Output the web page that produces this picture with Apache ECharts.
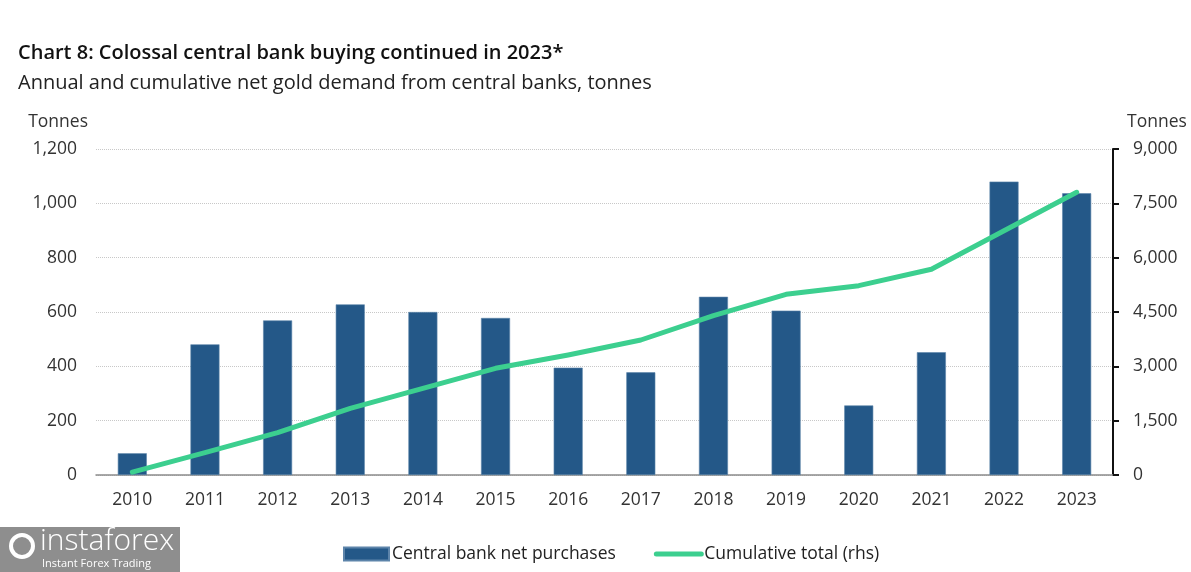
<!DOCTYPE html>
<html>
<head>
<meta charset="utf-8">
<script src="https://cdn.jsdelivr.net/npm/echarts@6/dist/echarts.min.js"></script>
<style>
html,body{margin:0;padding:0;background:#fff;}
#chart{width:1191px;height:572px;}
</style>
</head>
<body>
<div id="chart"></div>
<script>
var years = ['2010','2011','2012','2013','2014','2015','2016','2017','2018','2019','2020','2021','2022','2023'];
var netPurchases = [80, 481, 569, 628, 600, 578, 395, 378, 656, 605, 256, 452, 1080, 1037];
var cumulativeTotal = [79, 620, 1168, 1841, 2393, 2945, 3313, 3727, 4398, 4988, 5227, 5679, 6745, 7805];
var leftTicks = {min: 0, max: 1200, interval: 200};
var rightTicks = {min: 0, max: 9000, interval: 1500};

var FONT = "'Open Sans', 'Noto Sans', sans-serif";
var chart = echarts.init(document.getElementById('chart'), null, {renderer: 'canvas'});
var fmt = function (v) { return Number(v).toLocaleString('en-US'); };

chart.setOption({
  backgroundColor: '#ffffff',
  animation: false,
  textStyle: {fontFamily: FONT},
  title: [
    {text: 'Chart 8: Colossal central bank buying continued in 2023*', left: 13, top: 38,
     textStyle: {fontFamily: FONT, fontSize: 20, fontWeight: 600, color: '#111111'}},
    {text: 'Annual and cumulative net gold demand from central banks, tonnes', left: 13, top: 68,
     textStyle: {fontFamily: FONT, fontSize: 20, fontWeight: 400, color: '#222222'}}
  ],
  grid: {left: 96, right: 78, top: 149, bottom: 97, containLabel: false},
  legend: {
    left: 338, top: 540, itemWidth: 45, itemHeight: 13, itemGap: 38,
    textStyle: {fontFamily: FONT, fontSize: 17.5, color: '#222222', padding: [0, 0, 0, -2]},
    data: [
      {name: 'Central bank net purchases', icon: 'rect'},
      {name: 'Cumulative total (rhs)',
       itemStyle: {color: 'rgba(0,0,0,0)', borderWidth: 0, opacity: 0},
       lineStyle: {width: 5, color: '#3ccf8f', cap: 'round'}}
    ]
  },
  xAxis: {
    type: 'category', data: years,
    axisLine: {show: true, lineStyle: {color: '#8c8c8c', width: 1.5}},
    axisTick: {show: false},
    axisLabel: {fontFamily: FONT, fontSize: 17.5, color: '#333333', margin: 16}
  },
  yAxis: [
    {
      type: 'value', min: leftTicks.min, max: leftTicks.max, interval: leftTicks.interval,
      name: 'Tonnes', nameLocation: 'end', nameGap: 18,
      nameTextStyle: {fontFamily: FONT, fontSize: 17.5, color: '#333333', align: 'right', padding: [0, 8, 0, 0]},
      axisLine: {show: false}, axisTick: {show: false},
      axisLabel: {fontFamily: FONT, fontSize: 17.5, color: '#333333', margin: 19, formatter: fmt},
      splitLine: {show: true, lineStyle: {color: '#c8c8c8', type: [1, 1], width: 1}}
    },
    {
      type: 'value', min: rightTicks.min, max: rightTicks.max, interval: rightTicks.interval,
      position: 'right',
      name: 'Tonnes', nameLocation: 'end', nameGap: 18,
      nameTextStyle: {fontFamily: FONT, fontSize: 17.5, color: '#333333', align: 'left', padding: [0, 0, 0, 14]},
      axisLine: {show: true, lineStyle: {color: '#111111', width: 2}},
      axisTick: {show: true, inside: false, length: 6, lineStyle: {color: '#111111', width: 2}},
      axisLabel: {fontFamily: FONT, fontSize: 17.5, color: '#333333', margin: 20, formatter: fmt},
      splitLine: {show: false}
    }
  ],
  series: [
    {
      name: 'Central bank net purchases', type: 'bar', yAxisIndex: 0,
      data: netPurchases, barWidth: 29,
      itemStyle: {color: '#245888', borderColor: '#5d84aa', borderWidth: 0.6}
    },
    {
      name: 'Cumulative total (rhs)', type: 'line', yAxisIndex: 1,
      data: cumulativeTotal, symbol: 'none', smooth: false,
      lineStyle: {color: '#3ccf8f', width: 5, cap: 'round', join: 'round'},
      itemStyle: {color: '#3ccf8f'}
    }
  ],
  graphic: [
    {type: 'rect', left: 0, top: 527, shape: {width: 180, height: 45}, style: {fill: '#8e8e8e'}, silent: true},
    {type: 'circle', shape: {cx: 22, cy: 546, r: 11}, style: {fill: 'none', stroke: '#ffffff', lineWidth: 4}, silent: true},
    {type: 'text', left: 40, top: 526, style: {text: 'instaforex', fill: '#ffffff', font: "300 30px 'Open Sans', sans-serif"}, silent: true},
    {type: 'text', left: 42, top: 558, style: {text: 'Instant Forex Trading', fill: '#ffffff', font: "11px 'Open Sans', sans-serif"}, silent: true}
  ]
});
</script>
</body>
</html>
